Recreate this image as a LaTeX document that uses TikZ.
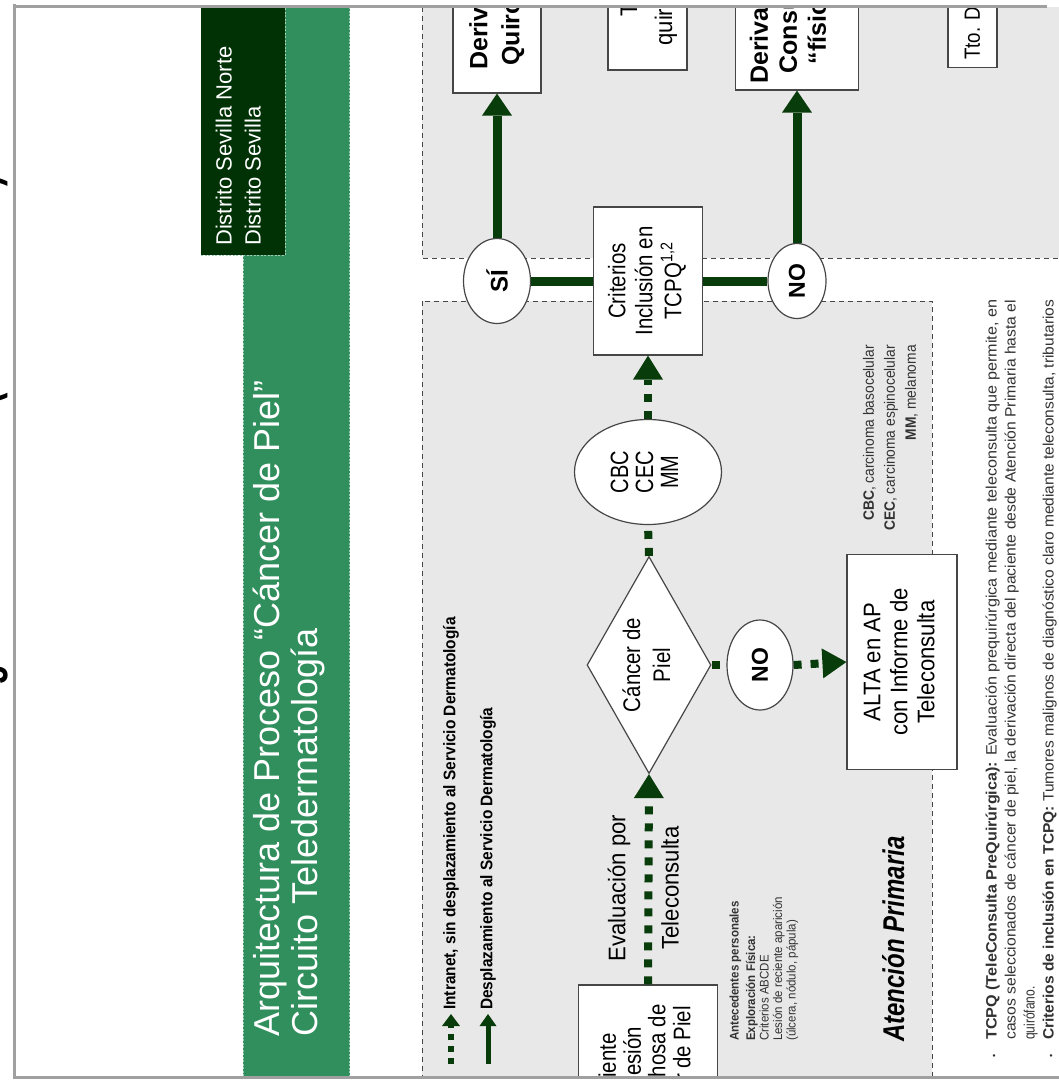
\documentclass[tikz,border=0pt]{standalone}
\usepackage{fontspec}
\usepackage{graphicx}
\setmainfont{Liberation Sans}
\newfontfamily\nfa[FakeStretch=0.85]{Liberation Sans}
\newfontfamily\nfb[FakeStretch=0.92]{Liberation Sans}
\newfontfamily\nfc[FakeStretch=0.8]{Liberation Sans}
\usetikzlibrary{shapes.geometric,arrows.meta}
\definecolor{dgreen}{RGB}{8,60,10}
\definecolor{dbox}{RGB}{0,50,6}
\definecolor{band}{RGB}{48,143,92}
\definecolor{lgray}{RGB}{232,232,232}
\definecolor{framegray}{RGB}{160,160,160}
\definecolor{bord}{RGB}{70,70,70}
\definecolor{txtgray}{RGB}{50,50,50}
% rotated multi-line text: [alignment]{font}{lines}
\newcommand{\rt}[3][c]{\rotatebox{90}{#2\begin{tabular}{@{}#1@{}}#3\end{tabular}}}
\begin{document}
\begin{tikzpicture}[x=1pt,y=-1pt,
  box/.style={draw=bord,line width=1.2pt,fill=white,inner sep=0pt,text=black},
  oval/.style={ellipse,draw=bord,line width=1.2pt,fill=white,inner sep=0pt,text=black},
  lbl/.style={inner sep=0pt,text=black},
  region/.style={fill=lgray,draw=bord,dash pattern=on 5pt off 4pt,line width=0.9pt},
  solidarrow/.style={draw=dgreen,line width=9pt,-{Triangle[length=22pt,width=30pt,line width=0pt]}},
  solidline/.style={draw=dgreen,line width=9pt},
  dotarrow/.style={draw=dgreen,line width=8pt,dash pattern=on 8pt off 9pt,-{Triangle[length=24pt,width=30pt,line width=0pt]}},
  dotline/.style={draw=dgreen,line width=8pt,dash pattern=on 8pt off 9pt},
  legdot/.style={draw=dgreen,line width=6pt,dash pattern=on 6pt off 6pt,-{Triangle[length=12pt,width=18pt,line width=0pt]}},
  legsolid/.style={draw=dgreen,line width=5pt,-{Triangle[length=12pt,width=17pt,line width=0pt]}},
  bandedge/.style={draw=white!55!band,dash pattern=on 2pt off 1.5pt,line width=1pt},
  framel/.style={draw=framegray,line width=3pt}
]
\useasboundingbox (0,0) rectangle (1059,1084);
\fill[white] (0,0) rectangle (1059,1084);

% fragment of a cut text outside the frame
\begin{scope}
\clip (0,0) rectangle (12.5,1084);
\node[lbl,anchor=south west] (frag) at (-39.5,1080) {\rotatebox{90}{\resizebox{905pt}{\height}{\fontsize{50}{54}\selectfont\bfseries Proceso Asistencial Integrado Melanoma (versión 2007)}}};
\end{scope}

\begin{scope}
\clip (15.5,7.5) rectangle (1059,1075.5);
% title band
\fill[band] (243,0) rectangle (350,1084);
\draw[bandedge] (243,255) -- (243,1084);
\draw[bandedge] (349,0) -- (349,1084);
\fill[dbox] (201,0) rectangle (285,255);
\draw[bandedge] (201,255) -- (285,255) -- (285,0);
\node[lbl,text=white,anchor=south west] (dist) at (211,246) {\rt[l]{\fontsize{22}{29}\selectfont}{Distrito Sevilla Norte\\Distrito Sevilla}};
\node[lbl,text=white,anchor=south west] (title) at (253,1037) {\rt[l]{\fontsize{36}{37}\selectfont}{Arquitectura de Proceso “Cáncer de Piel”\\Circuito Teledermatología}};

% regions
\filldraw[region] (422,-20) rectangle (1100,258);
\filldraw[region] (422,301) rectangle (932,1100);

% top (cut) boxes
\node[box,minimum width=88pt,minimum height=174pt] (dq) at (497,6) {\rt{\fontsize{25}{32}\selectfont\bfseries}{Derivación\\Quirófano}};
\node[box,minimum width=79pt,minimum height=146pt] (tq) at (647.5,-3) {\rt{\fontsize{24}{35}\selectfont\nfb}{Tto.\\quirúrgico}};
\node[box,minimum width=123pt,minimum height=140pt] (dc) at (797,20) {};
\node[lbl] (dct) at (791,20) {\rt{\fontsize{25}{29}\selectfont\bfseries}{Derivación\\Consulta\\“física”}};
\node[box,minimum width=49pt,minimum height=100pt,anchor=south] (tto) at (972.5,68) {};
\node[lbl,anchor=south] (ttot) at (974,60) {\rotatebox{90}{\fontsize{22}{26}\selectfont\nfa Tto. Dermatológico}};

% decision row
\node[oval,minimum width=67pt,minimum height=85pt] (si) at (497,281) {\rotatebox{90}{\fontsize{24}{28}\selectfont\bfseries SÍ}};
\node[box,minimum width=109pt,minimum height=148pt] (crit) at (648,281) {\rt{\fontsize{24}{27}\selectfont\nfa}{Criterios\\Inclusión en\\TCPQ\textsuperscript{1,2}}};
\node[oval,minimum width=58pt,minimum height=75pt] (no1) at (797,281) {\rotatebox{90}{\fontsize{23}{27}\selectfont\bfseries NO}};

\node[oval,minimum width=147pt,minimum height=105pt] (cbc) at (648,472) {\rt{\fontsize{25}{25}\selectfont\nfc}{CBC\\CEC\\MM}};
\node[diamond,draw=bord,line width=1.2pt,fill=white,minimum width=124pt,minimum height=217pt,inner sep=0pt] (diam) at (649,665) {};
\node[lbl] (diamt) at (649,665) {\rt{\fontsize{24}{30}\selectfont\nfa}{Cáncer de\\Piel}};
\node[oval,minimum width=66pt,minimum height=90pt] (no2) at (760,665) {\rotatebox{90}{\fontsize{23}{27}\selectfont\bfseries NO}};
\node[box,minimum width=110pt,minimum height=215pt] (alta) at (902,662) {\rt{\fontsize{24}{27}\selectfont\nfb}{ALTA en AP\\con Informe de\\Teleconsulta}};
\node[box,minimum width=139pt,minimum height=176pt] (pac) at (648,1073) {\rt{\fontsize{24}{24}\selectfont\nfa}{Paciente\\con lesión\\sospechosa de\\Cáncer de Piel}};
\node[lbl] (ev1) at (619,888) {\rotatebox{90}{\fontsize{24}{28}\selectfont\nfb Evaluación por}};
\node[lbl] (ev2) at (670,888) {\rotatebox{90}{\fontsize{24}{28}\selectfont\nfb Teleconsulta}};

% connectors
\draw[solidarrow] (si.north) -- (dq.south);
\draw[solidline] (si.east) -- (crit.west);
\draw[solidline] (crit.east) -- (no1.west);
\draw[solidarrow] (no1.north) -- (dc.south);
\draw[dotarrow] (cbc.north) -- (crit.south);
\draw[dotline] (diam.north) -- (cbc.south);
\draw[dotline] (diam.east) -- (no2.west);
\draw[dotarrow] (no2.east) -- (alta.west);
\draw[dotarrow] (pac.north) -- (diam.south);

% legend
\coordinate (l1s) at (451,1064); \coordinate (l1e) at (451,1014);
\draw[legdot] (l1s) -- (l1e);
\node[lbl,anchor=south] (l1t) at (451,1010) {\rotatebox{90}{\fontsize{16.8}{19}\selectfont\nfb\bfseries Intranet, sin desplazamiento al Servicio Dermatología}};
\coordinate (l2s) at (488,1064); \coordinate (l2e) at (488,1014);
\draw[legsolid] (l2s) -- (l2e);
\node[lbl,anchor=south] (l2t) at (488,1010) {\rotatebox{90}{\fontsize{16.8}{19}\selectfont\nfb\bfseries Desplazamiento al Servicio Dermatología}};

\node[lbl,text=txtgray,anchor=south west] (ant) at (729,1041) {\rt[l]{\fontsize{12.5}{13.5}\selectfont\nfb}{\textbf{Antecedentes personales}\\[3pt]\textbf{Exploración Física:}\\Criterios ABCDE\\Lesión de reciente aparición\\(úlcera, nódulo, pápula)}};
\node[lbl,text=txtgray,anchor=north west] (leg) at (859,345) {\rt[r]{\fontsize{15}{21}\selectfont\nfb}{\textbf{CBC}, carcinoma basocelular\\\textbf{CEC}, carcinoma espinocelular\\\textbf{MM}, melanoma}};
\node[lbl,anchor=south west] (ap) at (882,1042) {\rotatebox{90}{\fontsize{30}{34}\selectfont\nfc\bfseries\itshape Atención Primaria}};

% notes
\node[lbl,text=txtgray,anchor=south west] (tcpq) at (983,1040) {\rt[l]{\fontsize{15}{19}\selectfont\nfc}{%
\resizebox{740pt}{\height}{\textbf{TCPQ (TeleConsulta PreQuirúrgica):} Evaluación prequirúrgica mediante teleconsulta que permite, en}\\
\resizebox{740pt}{\height}{casos seleccionados de cáncer de piel, la derivación directa del paciente desde Atención Primaria hasta el}\\
quirófano.\\
\resizebox{740pt}{\height}{\textbf{Criterios de inclusión en TCPQ:} Tumores malignos de diagnóstico claro mediante teleconsulta, tributarios}}};
\node[lbl,text=txtgray] (b1) at (995,1056) {\rotatebox{90}{\fontsize{9}{10}\selectfont •}};
\node[lbl,text=txtgray] (b2) at (1052,1056) {\rotatebox{90}{\fontsize{9}{10}\selectfont •}};
\end{scope}

% frame
\draw[framel] (14,4) -- (14,1079);
\draw[framel] (12.5,6) -- (1047,6);
\draw[framel] (12.5,1077) -- (1059,1077);
\end{tikzpicture}
\end{document}
